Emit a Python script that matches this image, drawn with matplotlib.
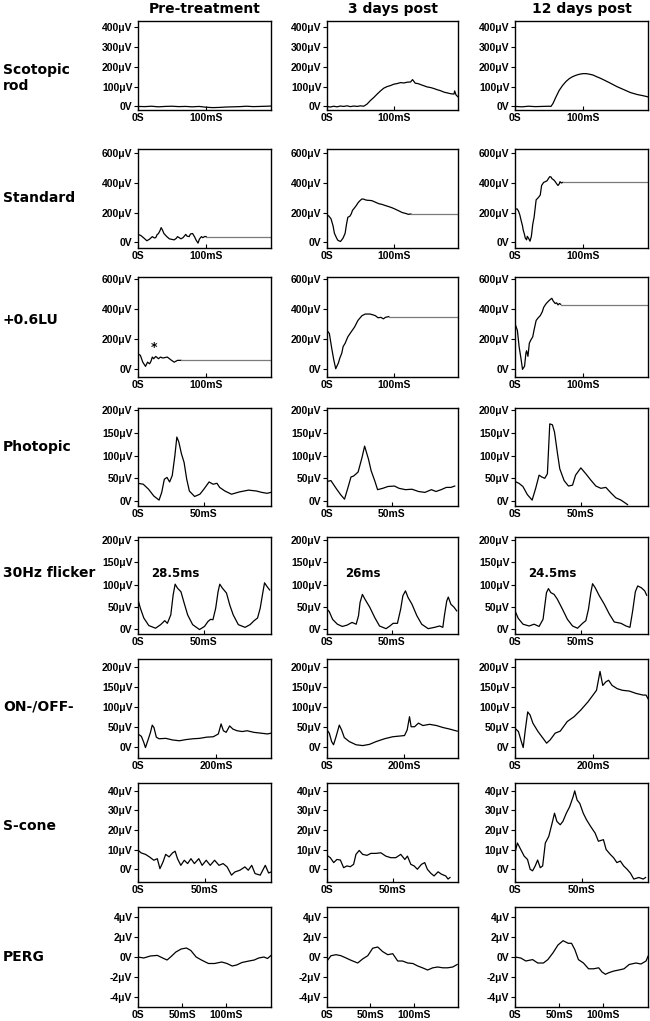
import matplotlib
matplotlib.use("Agg")
import matplotlib.pyplot as plt

W, H = 650, 1021

col_titles = ["Pre-treatment", "3 days post", "12 days post"]
row_labels = ["Scotopic\nrod", "Standard", "+0.6LU", "Photopic", "30Hz flicker", "ON-/OFF-", "S-cone", "PERG"]
flicker_times = ["28.5ms", "26ms", "24.5ms"]

# ---- scotopic rod (ms, uV)
rod_pre_t = [0, 10, 20, 30, 40, 50, 60, 70, 80, 90, 100, 110, 120, 130, 140, 150, 160, 170, 180, 190, 196]
rod_pre_v = [0, -1, 1, -2, 0, 1, -1, 0, -2, 0, -4, -6, -5, -3, -2, -1, 1, -1, 0, 1, 2]
rod_3d_t = [0, 5, 10, 15, 20, 25, 30, 35, 40, 45, 50, 55, 60, 65, 70, 75, 80, 85, 90, 95, 100, 105, 110, 115,
            120, 125, 128, 132, 136, 140, 145, 150, 155, 160, 165, 170, 175, 180, 185, 190, 191, 193, 196]
rod_3d_v = [0, -3, 1, -2, 2, 0, 3, -1, 2, 0, 3, 1, 12, 30, 45, 62, 78, 92, 100, 105, 112, 115, 120, 118,
            122, 123, 135, 117, 115, 110, 104, 98, 95, 90, 84, 79, 72, 68, 64, 62, 78, 58, 48]
rod_12d_t = [0, 10, 20, 30, 40, 50, 53, 56, 60, 65, 70, 75, 80, 85, 90, 95, 100, 105, 110, 115, 120, 125,
             130, 140, 150, 160, 170, 180, 190, 196]
rod_12d_v = [0, -2, 1, -1, 0, 1, 0, 15, 45, 80, 105, 125, 140, 150, 157, 162, 165, 165, 162, 158, 150, 143,
             135, 118, 100, 85, 70, 60, 53, 48]

# ---- standard
std_pre_t = [0, 4, 8, 13, 17, 21, 24, 26, 28, 30, 32, 34, 36, 38, 42, 46, 50, 53, 56, 58, 61, 63, 66, 70, 72,
             75, 77, 80, 83, 85, 88, 90, 93, 95, 98, 100]
std_pre_v = [52, 45, 30, 9, 20, 37, 28, 30, 50, 58, 75, 98, 80, 58, 38, 22, 18, 15, 25, 37, 28, 22, 30, 52, 40,
             37, 55, 58, 35, 15, -7, 20, 37, 30, 38, 37]
std_pre_tail = [37, 37]
std_3d_t = [0, 3, 6, 9, 11, 14, 16, 18, 20, 22, 24, 27, 29, 31, 34, 36, 38, 41, 44, 46, 49, 52, 55, 57, 60, 64,
            67, 72, 77, 82, 87, 92, 97, 102, 107, 112, 117, 121, 125]
std_3d_v = [185, 175, 157, 110, 60, 30, 13, 8, 4, 15, 28, 60, 120, 168, 175, 190, 215, 232, 250, 265, 280, 292,
            290, 286, 283, 282, 280, 270, 260, 255, 247, 240, 232, 222, 211, 200, 194, 188, 190]
std_3d_tail = [190, 190]
std_12d_t = [0, 3, 5, 7, 9, 11, 12, 14, 15, 17, 18, 20, 22, 24, 26, 28, 31, 34, 37, 39, 42, 45, 47, 49, 51, 53,
             54, 57, 59, 61, 63, 65, 66, 68, 70]
std_12d_v = [221, 225, 211, 185, 146, 110, 82, 50, 28, 15, 39, 25, 6, 39, 120, 168, 286, 300, 318, 383, 404, 410,
             415, 430, 443, 440, 430, 420, 409, 395, 383, 395, 409, 400, 404]
std_12d_tail = [404, 404]

# ---- +0.6LU
lu_pre_t = [0, 3.5, 7, 9, 11, 14, 17, 19, 21, 23, 26, 28, 30, 33, 36, 38, 43, 48, 53, 58, 63]
lu_pre_v = [100, 89, 44, 30, 16, 44, 33, 50, 78, 67, 82, 75, 67, 78, 72, 73, 78, 60, 44, 56, 56]
lu_pre_tail = [56, 56]
lu_3d_t = [0, 3.5, 7, 10, 13, 15, 17, 19, 22, 24, 27, 31, 36, 41, 46, 52, 57, 64, 68, 72, 76, 80, 84, 87, 92]
lu_3d_v = [256, 235, 137, 61, 0, 20, 39, 70, 104, 148, 170, 213, 246, 278, 322, 354, 365, 365, 360, 354, 340,
           343, 333, 343, 348]
lu_3d_tail = [348, 348]
lu_12d_t = [0, 3.5, 6, 9, 11, 13, 14, 16, 17, 19, 21, 23, 26, 28, 31, 34, 37, 40, 42, 45, 47, 50, 52, 54, 56,
            59, 61, 63, 65, 67]
lu_12d_v = [300, 256, 148, 61, -4, 10, 17, 104, 120, 83, 170, 190, 213, 260, 322, 340, 354, 380, 409, 430, 441,
            455, 463, 470, 452, 435, 440, 426, 435, 430]
lu_12d_tail = [428, 428]

# ---- photopic
ph_pre_t = [0, 4, 8, 12, 16, 18, 20, 22, 24, 26, 28, 29.5, 31, 33, 35, 37, 39, 43, 47, 50, 54, 57, 60, 62, 66,
            71, 77, 84, 90, 94, 98, 101]
ph_pre_v = [39, 37, 26, 11, 2, 19, 48, 52, 42, 56, 100, 141, 130, 104, 85, 48, 22, 10, 15, 26, 42, 37, 39, 30,
            22, 15, 20, 24, 22, 19, 17, 19]
ph_3d_t = [0, 3, 7, 10.5, 13.5, 16, 18.5, 20.5, 22.5, 24, 27, 29, 32, 34, 37, 39, 43, 47, 52, 55.5, 60.5, 65.5,
           70.5, 75.5, 80.5, 84, 88, 92, 95.5, 98.5]
ph_3d_v = [43, 45, 28, 14, 4, 28, 53, 55, 60, 64, 96, 121, 92, 67, 43, 25, 28, 32, 33, 28, 25, 26, 21, 19, 25,
           21, 25, 30, 30, 33]
ph_12d_t = [0, 3, 6, 9.4, 13, 15.7, 18.3, 20.3, 22.6, 24.6, 26.4, 28.4, 30, 32.2, 34, 37.3, 40.6, 43.7, 46, 50,
            53.8, 57.6, 61.4, 65.2, 69, 72.8, 76.6, 80.5, 85.5]
ph_12d_v = [43, 39, 32, 14, 2, 28, 57, 53, 50, 60, 170, 168, 152, 106, 71, 45, 33, 35, 57, 73, 60, 46, 33, 28,
            30, 18, 7, 2, -8]

# ---- 30Hz flicker
fl_pre_t = [0, 1.8, 4.4, 8.2, 13.3, 17.2, 20.3, 22.3, 24.9, 26.7, 28.2, 30, 32.6, 35.1, 37.7, 41.5, 46.7, 50.5,
            53.1, 55.1, 56.9, 59, 60.8, 62.1, 64.1, 67.2, 69.7, 72.3, 76.2, 81.3, 85.1, 88.2, 90.8, 92.8, 94.9,
            96.1, 97.9, 100]
fl_pre_v = [66, 47, 25, 8, 2, 10, 19, 13, 32, 77, 101, 92, 84, 58, 32, 10, -1, 6, 17, 22, 21, 47, 84, 101, 92,
            81, 54, 32, 10, 4, 10, 19, 25, 47, 84, 104, 96, 88]
fl_3d_t = [0, 1.8, 4.3, 8, 11.8, 15.5, 19.3, 22.5, 24.3, 25.5, 27.3, 29.3, 33, 36.8, 40.5, 45.5, 48.5, 51, 54.3,
           56.8, 58.5, 60.5, 62.5, 65.5, 69.3, 73, 78, 83, 86.8, 89.3, 90.5, 92.3, 93.5, 95.5, 98, 100]
fl_3d_v = [45, 39, 22, 11, 6, 9, 15, 11, 30, 60, 78, 67, 49, 26, 7, 1, 7, 13, 13, 45, 75, 86, 71, 56, 30, 11, 1,
           4, 7, 4, 30, 63, 72, 56, 49, 41]
fl_12d_t = [0, 2.5, 6.1, 10.7, 14.5, 18.3, 21.3, 23.9, 25.4, 27.2, 29.7, 32.2, 36, 39.8, 43.7, 47.5, 51.3, 53.8,
            55.8, 57.6, 58.9, 60.9, 64, 67.8, 71.6, 75.4, 80.5, 84.3, 87.3, 89.3, 91.4, 93.2, 95.9, 98.5, 100]
fl_12d_v = [41, 24, 11, 7, 11, 6, 22, 82, 91, 82, 78, 67, 45, 22, 7, 2, 13, 19, 45, 82, 102, 93, 75, 56, 34, 16,
            13, 7, 4, 40, 84, 97, 93, 86, 76]

# ---- ON-/OFF-
on_pre_t = [0, 8.7, 14.8, 19.1, 26, 32, 36.5, 40.9, 47, 53.9, 71.3, 88.7, 106, 123.5, 141, 158, 176, 193, 206,
            213, 219, 226, 235, 243.5, 254, 267, 280, 297, 315, 332, 341]
on_pre_v = [33, 27, 12, -1, 19, 37, 55, 49, 25, 21, 22, 18, 16, 19, 21, 22, 25, 26, 33, 58, 41, 37, 53, 45, 41,
            39, 41, 37, 35, 33, 35]
on_3d_t = [0, 6, 12, 17, 23.5, 32, 38, 45, 58, 75.7, 93, 110.4, 128, 149.6, 171, 201.7, 208.7, 214.8, 219, 228,
           238, 249.6, 267, 285, 302, 320, 339]
on_3d_v = [43, 35, 14, 6, 26, 55, 43, 24, 14, 6, 4, 7, 14, 21, 26, 29, 43, 76, 51, 51, 60, 54, 57, 54, 49, 45, 40]
on_12d_t = [0, 8.8, 15, 21, 26.4, 32.6, 38.8, 45.8, 59, 72, 81, 90, 103, 116, 134, 151.4, 169, 187, 200, 209,
            218, 225, 233, 240, 249, 262, 275, 293, 310.8, 328.4, 336, 341]
on_12d_v = [47, 39, 18, -1, 43, 88, 80, 60, 39, 22, 10, 18, 35, 40, 64, 76, 93, 113, 130, 142, 189, 154, 163,
            167, 154, 146, 142, 140, 134, 130, 130, 121]

# ---- S-cone
sc_pre_t = [0, 2.5, 5.6, 8.6, 11.9, 14.5, 16.5, 18.8, 20.8, 23.4, 25.9, 27.9, 29.7, 32.2, 34.8, 37.3, 39.8, 42.4,
            45.7, 48.2, 51.3, 54.3, 57.6, 60.9, 64, 67, 70.3, 72.8, 76.6, 80.4, 82.9, 85.5, 88, 91.9, 95.7, 98.2, 100]
sc_pre_v = [9.7, 8.3, 7.6, 6.3, 4.6, 5.4, 0.3, 3.7, 7.6, 6.3, 8.3, 9.2, 5.4, 2, 4.6, 2.9, 5.4, 2.9, 5.4, 2, 4.6,
            2, 4.6, 2, 2.9, 1.2, -3, -1.4, -0.5, 1.2, -0.5, 2, -2.2, -3, 2, -1.9, -1.4]
sc_3d_t = [0, 2.5, 5.1, 7.6, 10.2, 12.7, 15.2, 17.8, 20.3, 22.1, 24.6, 27.2, 30.5, 33.5, 37.3, 41.1, 44.9, 48.7,
           52.5, 56.3, 59.4, 61.4, 64, 66.5, 69, 72.1, 74.6, 76.6, 79.2, 81.7, 84.8, 87.3, 90.6, 92.4, 93.9]
sc_3d_v = [7.1, 5.9, 3.4, 5, 4.7, 0.8, 1.7, 1.3, 2.5, 7.6, 9.6, 7.6, 7.1, 8.1, 8.1, 8.4, 6.7, 5.9, 5.9, 7.6, 5,
           6.7, 2.5, 1.7, 0, 2.5, 3.4, 0, -2, -3.4, -1.3, -2.5, -3.4, -5, -4.2]
sc_12d_t = [0, 1.8, 4.3, 6.9, 9.4, 11.4, 13.2, 15.2, 17, 19, 20.8, 22.8, 25.4, 27.9, 29.7, 31.5, 34, 36, 38.6,
            41.1, 43.7, 44.9, 46.7, 48.7, 51.3, 53.8, 56.9, 60.2, 62.7, 66.5, 68.5, 71.6, 74.1, 76.6, 79.2, 81.7,
            84.3, 86.8, 89.3, 93.1, 96.4, 98.2]
sc_12d_v = [8.4, 13.4, 10.1, 6.7, 5, 0, -0.8, 1.7, 4.7, 0.8, 1.7, 13.4, 16.8, 23.5, 28.6, 24.4, 22.7, 24.4, 28.6,
            31.9, 37, 40, 35.3, 33.6, 28.6, 25.2, 21.8, 18.5, 14.3, 15.1, 10.1, 7.6, 5.9, 3.4, 4.2, 1.7, 0, -2, -5,
            -4.2, -5, -4.2]

# ---- PERG
pg_pre_t = [0, 6.5, 14, 22, 28, 33, 37, 43, 49, 55, 60, 66, 72, 80, 87, 95, 101, 107, 112, 118, 126, 132, 137,
            143, 147, 151]
pg_pre_v = [0, -0.1, 0.1, 0.16, -0.1, -0.3, 0, 0.5, 0.8, 0.9, 0.65, 0, -0.3, -0.65, -0.65, -0.5, -0.65, -0.9,
            -0.8, -0.55, -0.4, -0.3, -0.1, 0, -0.15, 0.15]
pg_3d_t = [0, 4.6, 10.4, 16, 22, 27.7, 35.4, 41, 47, 52.7, 58.5, 64, 70, 75.8, 81.5, 87, 93, 99, 104.6, 110, 116,
           122, 127.7, 133.5, 139, 145, 150]
pg_3d_v = [-0.4, 0.13, 0.23, 0.13, -0.1, -0.33, -0.6, -0.2, 0.13, 0.88, 1.0, 0.55, 0.23, 0.33, -0.4, -0.4, -0.6,
           -0.65, -0.9, -1.08, -1.3, -1.08, -1.0, -1.08, -1.08, -1.0, -0.75]
pg_12d_t = [0, 6.5, 12.3, 20, 25.8, 32.3, 37.3, 43, 48.8, 54.6, 60.4, 64.2, 68, 72, 77.7, 83.5, 89.2, 95, 98.8,
            102.7, 106.5, 112.3, 118, 123.8, 129.6, 137.3, 143, 148.8, 151]
pg_12d_v = [0, -0.1, -0.4, -0.26, -0.6, -0.6, -0.26, 0.4, 1.2, 1.63, 1.37, 1.37, 0.72, -0.26, -0.6, -1.18, -1.18,
            -1.08, -1.5, -1.73, -1.57, -1.4, -1.3, -1.18, -0.75, -0.6, -0.7, -0.4, 0.07]

traces = [
    [(rod_pre_t, rod_pre_v), (rod_3d_t, rod_3d_v), (rod_12d_t, rod_12d_v)],
    [(std_pre_t, std_pre_v), (std_3d_t, std_3d_v), (std_12d_t, std_12d_v)],
    [(lu_pre_t, lu_pre_v), (lu_3d_t, lu_3d_v), (lu_12d_t, lu_12d_v)],
    [(ph_pre_t, ph_pre_v), (ph_3d_t, ph_3d_v), (ph_12d_t, ph_12d_v)],
    [(fl_pre_t, fl_pre_v), (fl_3d_t, fl_3d_v), (fl_12d_t, fl_12d_v)],
    [(on_pre_t, on_pre_v), (on_3d_t, on_3d_v), (on_12d_t, on_12d_v)],
    [(sc_pre_t, sc_pre_v), (sc_3d_t, sc_3d_v), (sc_12d_t, sc_12d_v)],
    [(pg_pre_t, pg_pre_v), (pg_3d_t, pg_3d_v), (pg_12d_t, pg_12d_v)],
]
# flat (saturated) continuation for the two bright-flash rows
tails = {1: [std_pre_tail, std_3d_tail, std_12d_tail], 2: [lu_pre_tail, lu_3d_tail, lu_12d_tail]}

# per-row axis settings
xlims = [(0, 196), (0, 195), (0, 195), (0, 101), (0, 101), (0, 341), (0, 100), (0, 151)]
ylims = [(-18, 430), (-40, 630), (-55, 612), (-11, 205), (-11, 207), (-27, 220), (-6.5, 44), (-5, 5)]
xticks = [[0, 100], [0, 100], [0, 100], [0, 50], [0, 50], [0, 200], [0, 50], [0, 50, 100]]
yticks = [[0, 100, 200, 300, 400], [0, 200, 400, 600], [0, 200, 400, 600], [0, 50, 100, 150, 200],
          [0, 50, 100, 150, 200], [0, 50, 100, 150, 200], [0, 10, 20, 30, 40], [-4, -2, 0, 2, 4]]

# layout in pixels
col_left = [138, 327, 515]
col_w = [133, 131, 133]
row_top = [21, 149, 277, 408, 537, 659, 783, 907]
row_bot = [110, 248, 377, 506, 634, 758, 882, 1007]
row_label_y = [78, 198, 320, 447, 573, 706, 826, 957]


def ylab(v):
    return "0V" if v == 0 else f"{v}\u03bcV"


def xlab(v):
    return "0S" if v == 0 else f"{v}mS"


fig = plt.figure(figsize=(W / 100, H / 100), dpi=100)
tick_font = dict(family=["Liberation Sans", "DejaVu Sans"], size=7.5, weight="bold")
head_font = dict(family="DejaVu Sans", size=10, weight="bold")

for r in range(8):
    fig.text(3 / W, 1 - row_label_y[r] / H, row_labels[r], ha="left", va="center",
             linespacing=1.25, **head_font)
    for c in range(3):
        ax = fig.add_axes([col_left[c] / W, 1 - row_bot[r] / H, col_w[c] / W, (row_bot[r] - row_top[r]) / H])
        t, v = traces[r][c]
        ax.plot(t, v, color="black", lw=0.9)
        if r in tails:
            ax.plot([t[-1], xlims[r][1]], tails[r][c], color="#7a7a7a", lw=0.9)
        ax.set_xlim(*xlims[r])
        ax.set_ylim(*ylims[r])
        ax.set_xticks(xticks[r])
        ax.set_xticklabels([xlab(x) for x in xticks[r]], **tick_font)
        ax.set_yticks(yticks[r])
        ax.set_yticklabels([ylab(y) for y in yticks[r]], **tick_font)
        ax.tick_params(axis="y", direction="out", length=3, width=0.8, pad=1)
        ax.tick_params(axis="x", direction="in", length=3, width=0.8, pad=2)
        for s in ax.spines.values():
            s.set_linewidth(1.0)
        if r == 0:
            ax.set_title(col_titles[c], pad=6, **head_font)
        if r == 4:
            ax.text(28, 126, flicker_times[c], ha="center", va="center",
                    family="DejaVu Sans", size=8.5, weight="bold")
        if r == 2 and c == 0:
            ax.text(24, 140, "*", ha="center", va="center", size=9, weight="bold")

fig.savefig("out.png", dpi=100)
